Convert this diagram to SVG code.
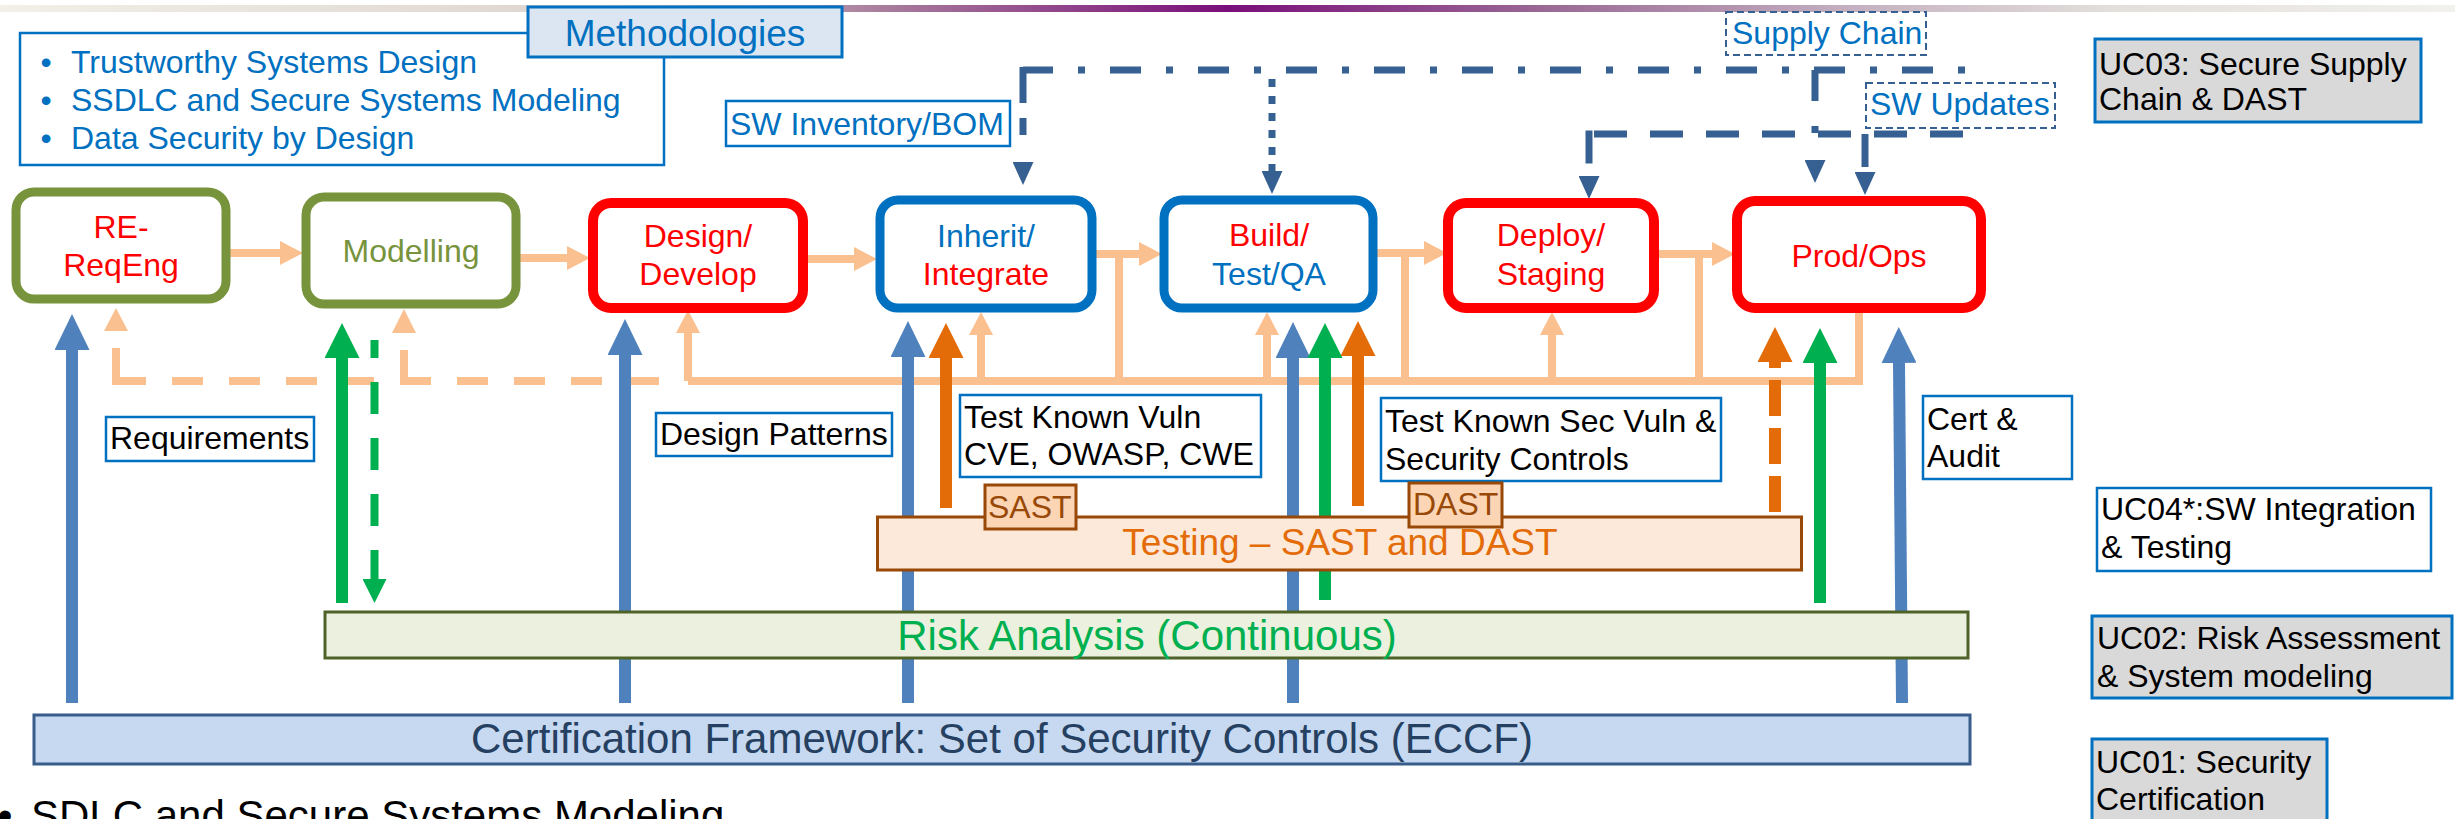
<svg xmlns="http://www.w3.org/2000/svg" width="2455" height="819" viewBox="0 0 2455 819">
  <style>
    text { font-family: "Liberation Sans", Arial, sans-serif; font-size: 32px; }
    .blue { fill: #0070c0; }
    .red { fill: #ff0000; }
    .olive { fill: #77933c; }
    .blk { fill: #000000; }
    .mid { text-anchor: middle; }
    .step { fill: #ffffff; stroke-width: 9; }
    .s-olive { stroke: #77933c; }
    .s-red { stroke: #ff0000; stroke-width: 10; }
    .s-blue { stroke: #0070c0; }
    .lbl { fill: #ffffff; stroke: #0070c0; stroke-width: 2.5; }
    .uc { fill: #d9d9d9; stroke: #0070c0; stroke-width: 3; }
    .tag { fill: #ffffff; stroke: #376092; stroke-width: 2; stroke-dasharray: 7 4; }
    .flow { fill: none; stroke: #fac090; stroke-width: 8; }
    .peach-head { fill: #fac090; }
    .thick { fill: none; stroke-width: 12; }
    .c-blue { stroke: #4f81bd; }
    .c-green { stroke: #00b050; }
    .c-orange { stroke: #e36c09; }
    .navy { fill: none; stroke: #376092; stroke-width: 7; }
    .dashdot { stroke-dasharray: 7 25 31 25; }
    .tst { fill: #fcd5b5; stroke: #984807; stroke-width: 3; }
  </style>
  <defs>
    <linearGradient id="topBar" x1="0" y1="0" x2="1" y2="0">
      <stop offset="0" stop-color="#f2f0e8"/>
      <stop offset="0.25" stop-color="#ddd3cf"/>
      <stop offset="0.36" stop-color="#a87d9c"/>
      <stop offset="0.5" stop-color="#7a0f7a"/>
      <stop offset="0.63" stop-color="#9a6a95"/>
      <stop offset="0.75" stop-color="#c3aebf"/>
      <stop offset="0.86" stop-color="#e3dfdb"/>
      <stop offset="1" stop-color="#f2f1ec"/>
    </linearGradient>
    <marker id="hPeach" viewBox="0 0 23 24" refX="0" refY="12" markerWidth="23" markerHeight="24" markerUnits="userSpaceOnUse" orient="auto">
      <path d="M0 0L23 12L0 24z" fill="#fac090"/>
    </marker>
    <marker id="hBlue" viewBox="0 0 36 35" refX="0" refY="17.5" markerWidth="36" markerHeight="35" markerUnits="userSpaceOnUse" orient="auto">
      <path d="M0 0L36 17.5L0 35z" fill="#4f81bd"/>
    </marker>
    <marker id="hGreen" viewBox="0 0 35 35" refX="0" refY="17.5" markerWidth="35" markerHeight="35" markerUnits="userSpaceOnUse" orient="auto">
      <path d="M0 0L35 17.5L0 35z" fill="#00b050"/>
    </marker>
    <marker id="hOrange" viewBox="0 0 35 35" refX="0" refY="17.5" markerWidth="35" markerHeight="35" markerUnits="userSpaceOnUse" orient="auto">
      <path d="M0 0L35 17.5L0 35z" fill="#e36c09"/>
    </marker>
    <marker id="hGreenS" viewBox="0 0 24 24" refX="0" refY="12" markerWidth="24" markerHeight="24" markerUnits="userSpaceOnUse" orient="auto">
      <path d="M0 0L24 12L0 24z" fill="#00b050"/>
    </marker>
    <marker id="hNavy" viewBox="0 0 23 21" refX="0" refY="10.5" markerWidth="23" markerHeight="21" markerUnits="userSpaceOnUse" orient="auto">
      <path d="M0 0L23 10.5L0 21z" fill="#376092"/>
    </marker>
  </defs>

  <!-- header band -->
  <rect x="0" y="5" width="2455" height="7" fill="url(#topBar)"/>

  <!-- methodologies panel -->
  <g id="methodologies">
    <rect x="20" y="33" width="644" height="132" fill="#ffffff" stroke="#0070c0" stroke-width="2.5"/>
    <text x="46" y="73" class="blue mid">•</text>
    <text x="71" y="73" class="blue">Trustworthy Systems Design</text>
    <text x="46" y="111" class="blue mid">•</text>
    <text x="71" y="111" class="blue">SSDLC and Secure Systems Modeling</text>
    <text x="46" y="149" class="blue mid">•</text>
    <text x="71" y="149" class="blue">Data Security by Design</text>
    <rect x="528" y="7" width="314" height="50" fill="#dce6f2" stroke="#0070c0" stroke-width="3"/>
    <text x="685" y="46" class="blue mid" style="font-size:37px">Methodologies</text>
  </g>

  <!-- all connectors -->
  <g id="connectors">
    <!-- supply chain / updates (dark blue, patterned) -->
    <path class="navy dashdot" d="M1965 70H1023"/>
    <path class="navy" d="M1023 67V162" stroke-dasharray="36 15 17 100" marker-end="url(#hNavy)"/>
    <path class="navy" d="M1815 70V160" stroke-dasharray="31 25 7 100" marker-end="url(#hNavy)"/>
    <path class="navy" d="M1272 79V171" stroke-dasharray="8 9" marker-end="url(#hNavy)"/>
    <path class="navy" d="M1963 134H1594" stroke-dasharray="33 23"/>
    <path class="navy" d="M1589 130.5V176" stroke-dasharray="33 100" marker-end="url(#hNavy)"/>
    <path class="navy" d="M1865 134V172" stroke-dasharray="33 100" marker-end="url(#hNavy)"/>

    <!-- main process flow -->
    <path class="flow" d="M230 253H280" marker-end="url(#hPeach)"/>
    <path class="flow" d="M520 258H567" marker-end="url(#hPeach)"/>
    <path class="flow" d="M808 259H854" marker-end="url(#hPeach)"/>
    <path class="flow" d="M1096 254H1139" marker-end="url(#hPeach)"/>
    <path class="flow" d="M1377 253H1424" marker-end="url(#hPeach)"/>
    <path class="flow" d="M1659 254H1712" marker-end="url(#hPeach)"/>

    <!-- feedback loop -->
    <path class="flow" d="M1119 254V381M1405 253V381M1699 254V381"/>
    <path class="flow" d="M1859 313V381H688"/>
    <path class="flow" d="M688 381V333" marker-end="url(#hPeach)"/>
    <path class="flow" d="M981 381V335" marker-end="url(#hPeach)"/>
    <path class="flow" d="M1267 381V335" marker-end="url(#hPeach)"/>
    <path class="flow" d="M1552 381V335" marker-end="url(#hPeach)"/>
    <path class="flow" d="M659 381H145" stroke-dasharray="31 26"/>
    <path class="flow" d="M145 381H116V348"/>
    <polygon class="peach-head" points="104,331 128,331 116,308"/>
    <path class="flow" d="M404 381V350"/>
    <polygon class="peach-head" points="392,333 416,333 404,309"/>

    <!-- certification inputs -->
    <path class="thick c-blue" d="M72 703V350" marker-end="url(#hBlue)"/>
    <path class="thick c-blue" d="M625 703V355" marker-end="url(#hBlue)"/>
    <path class="thick c-blue" d="M908 703V357" marker-end="url(#hBlue)"/>
    <path class="thick c-blue" d="M1293 703V358" marker-end="url(#hBlue)"/>
    <path class="thick c-blue" d="M1902 703L1899 363" marker-end="url(#hBlue)"/>

    <!-- risk analysis inputs -->
    <path class="thick c-green" d="M342 603V358" marker-end="url(#hGreen)"/>
    <path class="thick c-green" d="M1325 600V358" marker-end="url(#hGreen)"/>
    <path class="thick c-green" d="M1820 603V363" marker-end="url(#hGreen)"/>
    <path fill="none" stroke="#00b050" stroke-width="8" d="M374.5 340V579" stroke-dasharray="32 24" stroke-dashoffset="14" marker-end="url(#hGreenS)"/>

    <!-- testing inputs -->
    <path class="thick c-orange" d="M946 508V358" marker-end="url(#hOrange)"/>
    <path class="thick c-orange" d="M1358 506V356" marker-end="url(#hOrange)"/>
    <path class="thick c-orange" d="M1775 512V362" stroke-dasharray="36 12" marker-end="url(#hOrange)"/>
  </g>

  <!-- lifecycle steps -->
  <g id="re-reqeng">
    <rect class="step s-olive" x="16" y="192" width="210" height="107" rx="18"/>
    <text x="121" y="238" class="red mid">RE-</text>
    <text x="121" y="276" class="red mid">ReqEng</text>
  </g>
  <g id="modelling">
    <rect class="step s-olive" x="306" y="197" width="210" height="107" rx="18"/>
    <text x="411" y="262" class="olive mid">Modelling</text>
  </g>
  <g id="design-develop">
    <rect class="step s-red" x="593" y="203" width="210" height="105" rx="18"/>
    <text x="698" y="247" class="red mid">Design/</text>
    <text x="698" y="285" class="red mid">Develop</text>
  </g>
  <g id="inherit-integrate">
    <rect class="step s-blue" x="880" y="200" width="212" height="108" rx="18"/>
    <text x="986" y="247" class="blue mid">Inherit/</text>
    <text x="986" y="285" class="red mid">Integrate</text>
  </g>
  <g id="build-test-qa">
    <rect class="step s-blue" x="1164" y="200" width="209" height="108" rx="18"/>
    <text x="1269" y="246" class="red mid">Build/</text>
    <text x="1269" y="285" class="blue mid">Test/QA</text>
  </g>
  <g id="deploy-staging">
    <rect class="step s-red" x="1448" y="203" width="206" height="105" rx="18"/>
    <text x="1551" y="246" class="red mid">Deploy/</text>
    <text x="1551" y="285" class="red mid">Staging</text>
  </g>
  <g id="prod-ops">
    <rect class="step s-red" x="1737" y="201" width="244" height="107" rx="18"/>
    <text x="1859" y="267" class="red mid">Prod/Ops</text>
  </g>

  <!-- supply chain tags -->
  <g id="sw-inventory">
    <rect class="lbl" x="726" y="101" width="284" height="45"/>
    <text x="730" y="135" class="blue">SW Inventory/BOM</text>
  </g>
  <g id="supply-chain">
    <rect class="tag" x="1726" y="12" width="200" height="43"/>
    <text x="1732" y="44" class="blue">Supply Chain</text>
  </g>
  <g id="sw-updates">
    <rect class="tag" x="1866" y="83" width="189" height="45"/>
    <text x="1870" y="115" class="blue">SW Updates</text>
  </g>

  <!-- input labels -->
  <g id="requirements">
    <rect class="lbl" x="106" y="417" width="208" height="44"/>
    <text x="110" y="449" class="blk">Requirements</text>
  </g>
  <g id="design-patterns">
    <rect class="lbl" x="656" y="413" width="236" height="43"/>
    <text x="660" y="445" class="blk">Design Patterns</text>
  </g>
  <g id="test-known-vuln">
    <rect class="lbl" x="960" y="395" width="301" height="82"/>
    <text x="964" y="428" class="blk">Test Known Vuln</text>
    <text x="964" y="465" class="blk">CVE, OWASP, CWE</text>
  </g>
  <g id="test-known-sec-vuln">
    <rect class="lbl" x="1381" y="398" width="340" height="83"/>
    <text x="1385" y="432" class="blk">Test Known Sec Vuln &amp;</text>
    <text x="1385" y="470" class="blk">Security Controls</text>
  </g>
  <g id="cert-audit">
    <rect class="lbl" x="1923" y="396" width="149" height="83"/>
    <text x="1927" y="430" class="blk">Cert &amp;</text>
    <text x="1927" y="467" class="blk">Audit</text>
  </g>

  <!-- horizontal bands -->
  <g id="testing">
    <rect x="877.5" y="517" width="924" height="53" fill="#fde9d9" stroke="#984807" stroke-width="3"/>
    <text x="1340" y="555" class="mid" style="font-size:37px;fill:#e36c09">Testing – SAST and DAST</text>
  </g>
  <g id="sast">
    <rect class="tst" x="985" y="485" width="91" height="44"/>
    <text x="988" y="518" style="fill:#984807">SAST</text>
  </g>
  <g id="dast">
    <rect class="tst" x="1409" y="483" width="93" height="44"/>
    <text x="1413" y="515" style="fill:#984807">DAST</text>
  </g>
  <g id="risk-analysis">
    <rect x="325" y="612" width="1643" height="46" fill="#ebf1de" stroke="#4f6228" stroke-width="3"/>
    <text x="1147" y="650" class="mid" style="font-size:42px;fill:#00b050">Risk Analysis (Continuous)</text>
  </g>
  <g id="certification-framework">
    <rect x="34" y="715" width="1936" height="49" fill="#c6d9f1" stroke="#385d8a" stroke-width="3"/>
    <text x="1002" y="753" class="mid" style="font-size:42px;fill:#254061">Certification Framework: Set of Security Controls (ECCF)</text>
  </g>

  <!-- use case legend -->
  <g id="uc03">
    <rect class="uc" x="2095" y="39" width="326" height="83"/>
    <text x="2099" y="75" class="blk">UC03: Secure Supply</text>
    <text x="2099" y="110" class="blk">Chain &amp; DAST</text>
  </g>
  <g id="uc04">
    <rect class="lbl" x="2097" y="488" width="334" height="83" stroke-width="3"/>
    <text x="2101" y="520" class="blk">UC04*:SW Integration</text>
    <text x="2101" y="558" class="blk">&amp; Testing</text>
  </g>
  <g id="uc02">
    <rect class="uc" x="2092" y="616" width="360" height="82"/>
    <text x="2097" y="649" class="blk">UC02: Risk Assessment</text>
    <text x="2097" y="687" class="blk">&amp; System modeling</text>
  </g>
  <g id="uc01">
    <rect class="uc" x="2092" y="739" width="235" height="95"/>
    <text x="2096" y="773" class="blk">UC01: Security</text>
    <text x="2096" y="810" class="blk">Certification</text>
  </g>

  <!-- slide bullet below the diagram -->
  <text x="5" y="830" class="blk mid" style="font-size:42px">•</text>
  <text x="31" y="830" class="blk" style="font-size:42px">SDLC and Secure Systems Modeling</text>
</svg>
